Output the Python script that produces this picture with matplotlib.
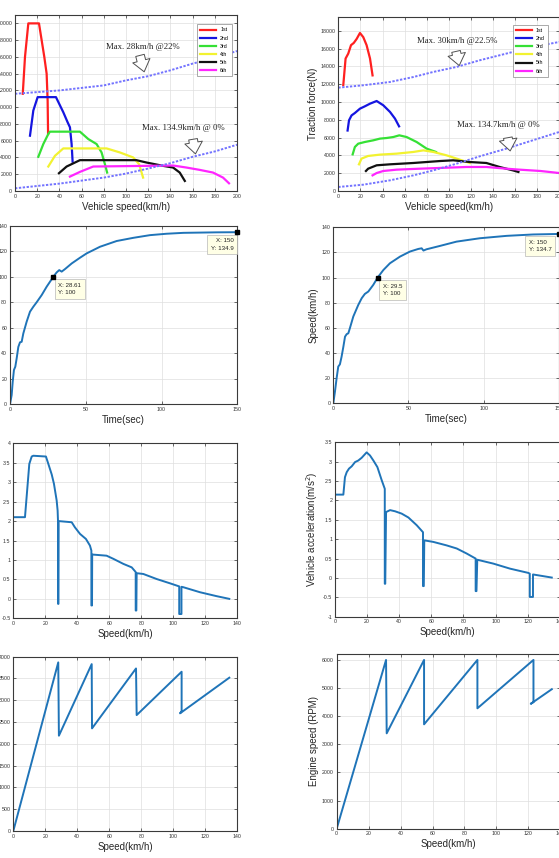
import numpy as np
import matplotlib
matplotlib.use("Agg")
import matplotlib.pyplot as plt
from matplotlib.ticker import FormatStrFormatter

plt.rcParams['font.family'] = ['Liberation Sans', 'DejaVu Sans']

## traction force vs vehicle speed (left: case A, right: case B) ##
gears = ['1st', '2nd', '3rd', '4th', '5th', '6th']
gear_colors = ['#ff2020', '#1515e0', '#35e035', '#f2f230', '#111111', '#ff25ff']

tfA_x = [[7, 9, 12, 21.6, 24, 26.4, 28.5, 29.4, 29.8],
         [13.5, 16.5, 20.4, 36.9, 43.5, 47.4, 49.5, 51, 51.9],
         [21, 25.5, 30, 31.5, 58.5, 66, 73.5, 78, 81, 83],
         [30, 36, 43.5, 82.5, 94.5, 106.5, 111.8, 115.4],
         [39.6, 46.5, 58.5, 109.4, 118.4, 133.4, 142.4, 148.4, 153],
         [49.5, 58.5, 70.5, 142.4, 154.4, 166.4, 178.4, 187.4, 192.8]]
tfA_y = [[11600, 16000, 20000, 20000, 18000, 16000, 14000, 10800, 6800],
         [6600, 9600, 11200, 11200, 9400, 8200, 7600, 5600, 3500],
         [4080, 5600, 6800, 7080, 7080, 6200, 5600, 4600, 3200, 2200],
         [2920, 4200, 5080, 5080, 4600, 4000, 3200, 1600],
         [2120, 2920, 3680, 3680, 3400, 3000, 2800, 2200, 1200],
         [1720, 2280, 2920, 3040, 2800, 2520, 2200, 1600, 920]]
resA_v = [0, 40, 80, 100, 120, 140, 160, 180, 200]
resA_hi = [11600, 12000, 12600, 13200, 13700, 14400, 15200, 15900, 16700]
resA_lo = [320, 880, 1600, 2080, 2680, 3320, 4080, 4720, 5520]

tfB_x = [[4.5, 6.6, 9, 11.5, 14, 16.6, 19.6, 22.6, 25.6, 28.7, 31],
         [8.4, 9.7, 12, 15, 19.6, 24, 28.7, 34.7, 40.7, 46.8, 51.3, 55],
         [13, 15, 18, 24, 31.7, 37.7, 43.7, 49.8, 55.2, 61.8, 70.9, 80, 88.4],
         [18.7, 21, 27, 37.7, 52.8, 67.9, 77, 86, 98, 110, 119],
         [25, 27, 34.7, 46.8, 67.9, 92, 104, 119, 134, 146, 158, 163],
         [31, 34.7, 40.7, 52.8, 74, 98, 116, 134, 152, 164, 183, 200]]
tfB_y = [[11900, 14900, 15450, 16400, 16650, 17100, 17770, 17300, 16400, 14900, 13000],
         [6800, 7950, 8500, 8770, 9260, 9520, 9820, 10120, 9640, 8890, 8140, 7270],
         [4120, 4950, 5320, 5510, 5700, 5890, 5960, 6070, 6260, 6070, 5510, 4760, 4390],
         [3000, 3640, 3940, 4090, 4200, 4390, 4570, 4390, 4010, 3520, 3150],
         [2250, 2510, 2890, 3000, 3150, 3370, 3450, 3260, 3150, 2700, 2320, 2140],
         [1760, 2020, 2250, 2400, 2510, 2620, 2700, 2700, 2510, 2400, 2250, 2020]]
resB_v = [0, 22.6, 46.8, 68, 86, 107, 128, 152, 176, 200]
resB_hi = [11620, 11890, 12260, 12820, 13390, 13950, 14700, 15450, 16200, 16760]
resB_lo = [450, 710, 1200, 1760, 2320, 3070, 3900, 4760, 5700, 6640]

## speed vs time ##
tA = [0, 1.1, 1.8, 2.6, 3.5, 4.4, 5.5, 6.6, 7.7, 8.8, 11, 13.2, 15.4, 17.6, 20.9, 24.2,
      28.61, 30.8, 32.5, 34.1, 36.3, 40.7, 46.2, 50.6, 59.4, 70.4, 81.4, 92.4, 103.4,
      114.4, 125.4, 136.4, 150]
vA = [0, 7.3, 17.8, 26.9, 29.5, 36, 45, 48.6, 49, 55.6, 64.8, 72.6, 76.5, 80, 85.6, 92.2,
      100, 103.4, 105.2, 104, 106, 110.4, 114.9, 118.3, 123.5, 128, 130.5, 132.6, 133.7,
      134.4, 134.6, 134.8, 134.9]
tB = [0, 1.1, 2.2, 3.3, 4.4, 5.5, 6.7, 7.8, 8.9, 10, 11.1, 13.3, 16.6, 18.9, 21, 23.3,
      26.6, 29.5, 33.3, 37.7, 44.4, 51, 56.6, 58.8, 60, 62, 71, 82, 97.6, 115.4, 133, 150]
vB = [0, 9.3, 19.9, 29.2, 31, 37, 45, 53, 55, 55.7, 60, 69, 78.2, 83.6, 87, 88.9,
      94.2, 100, 106, 111.4, 116.7, 120.7, 122.8, 123.3, 121.5, 122.5, 125.2, 128.6,
      131.3, 133.2, 134.3, 134.7]
tipsA = [(28.61, 100), (150, 134.9)]
tipsB = [(29.5, 100), (150, 134.7)]

## acceleration vs speed ##
accA_v = [0, 7.3, 10, 11.5, 12.5, 20.4, 21.9, 24, 25.4, 27.1, 27.7, 28.0, 28.0, 28.2, 28.3,
          36.5, 38.5, 41.7, 45.4, 47.9, 48.8, 48.8, 49.2, 49.3, 58.3, 62.5, 68.75, 74,
          76.5, 76.5, 76.9, 77.1, 81.25, 89.6, 97.9, 103.7, 103.7, 105.1, 105.1, 106.2,
          116.7, 127, 135]
accA_a = [2.1, 2.1, 3.47, 3.66, 3.68, 3.66, 3.47, 3.2, 2.96, 2.53, 2.27, 1.93, -0.13, -0.13,
          2.0, 1.97, 1.84, 1.67, 1.54, 1.37, 1.24, -0.17, -0.17, 1.14, 1.11, 1.03, 0.9,
          0.81, 0.69, -0.3, -0.3, 0.66, 0.64, 0.51, 0.40, 0.32, -0.39, -0.39, 0.31, 0.30,
          0.17, 0.07, 0.0]
accB_v = [0, 5.2, 6.2, 7.3, 8.7, 10.4, 12.5, 14.5, 16.6, 19.7, 21.8, 23.9, 26.4, 29.1,
          31.0, 31.0, 31.3, 31.8, 34.3, 37.4, 41.5, 45.7, 50.9, 54.8, 54.8, 55.3, 55.6,
          61.2, 69.5, 75.8, 82, 87.6, 87.6, 88.1, 88.6, 98.6, 109, 120.4, 121.3, 121.3,
          123.3, 123.3, 135]
accB_a = [2.15, 2.15, 2.6, 2.73, 2.82, 2.88, 2.99, 3.03, 3.10, 3.24, 3.16, 3.03, 2.86, 2.52,
          2.30, -0.15, -0.15, 1.70, 1.75, 1.72, 1.66, 1.56, 1.36, 1.18, -0.21, -0.21, 0.97,
          0.93, 0.84, 0.76, 0.63, 0.50, -0.34, -0.34, 0.47, 0.37, 0.24, 0.13, 0.11, -0.49,
          -0.49, 0.09, 0.01]

## engine speed vs speed ##
rpmA_v = [0, 28.1, 28.5, 49, 49.2, 76.7, 77.1, 105.2, 105.2, 104.2, 135]
rpmA_n = [0, 3870, 2187, 3830, 2355, 3730, 2660, 3655, 2750, 2700, 3518]
rpmB_v = [0, 30.9, 31.3, 54.7, 54.7, 88.1, 88.1, 123.2, 123.2, 121.5, 134.7]
rpmB_n = [0, 6000, 3390, 6000, 3710, 6000, 4280, 6000, 4500, 4440, 4960]

W, H = 559, 858
fig = plt.figure(figsize=(W / 100, H / 100), dpi=100)


def px_axes(l, r, t, b):
    return fig.add_axes([l / W, 1 - b / H, (r - l) / W, (b - t) / H])


def style(ax):
    ax.grid(True, color='#dedede', lw=0.5)
    ax.set_axisbelow(True)
    ax.tick_params(direction='in', length=2, width=0.5, labelsize=3.8,
                   colors='#333333', top=True, right=True, pad=2)
    for s in ax.spines.values():
        s.set_color('#3a3a3a')
        s.set_linewidth(0.8)


line_c = '#1f74b8'
lab = dict(fontsize=7, color='#262626')
ann = dict(fontsize=6.3, family='Liberation Serif', color='#222222')
arrow = dict(arrowstyle='simple,head_length=0.55,head_width=0.85,tail_width=0.42',
             fc='white', ec='#505050', lw=0.7, mutation_scale=15)


def traction(ax, xs, ys, rv, rhi, rlo, ymax, yt, txt1, p1, a1, txt2, p2, a2, leg_anchor):
    for x, y, g, c in zip(xs, ys, gears, gear_colors):
        ax.plot(x, y, color=c, lw=1.6, label=g)
    ax.plot(rv, rhi, color='#7373ff', lw=1.4, ls=(0, (1.2, 0.8)))
    ax.plot(rv, rlo, color='#7373ff', lw=1.4, ls=(0, (1.2, 0.8)))
    ax.text(p1[0], p1[1], txt1, **ann)
    ax.annotate('', xy=a1[1], xytext=a1[0], arrowprops=arrow)
    ax.text(p2[0], p2[1], txt2, **ann)
    ax.annotate('', xy=a2[1], xytext=a2[0], arrowprops=arrow)
    ax.set_xlim(0, 200)
    ax.set_ylim(0, ymax)
    ax.set_xticks(np.arange(0, 201, 20))
    ax.set_yticks(yt)
    ax.set_xlabel('Vehicle speed(km/h)', labelpad=2, **lab)
    leg = ax.legend(loc='upper right', bbox_to_anchor=leg_anchor, fontsize=3.8,
                    handlelength=3, labelspacing=0.6, borderpad=0.6,
                    fancybox=False, edgecolor='#888888', framealpha=1)
    leg.get_frame().set_linewidth(0.5)
    style(ax)


def tip(ax, x, y, off, ha):
    ax.plot([x], [y], 's', color='black', ms=3.5, clip_on=False, zorder=5)
    ax.annotate('X: %g\nY: %g' % (x, y), xy=(x, y), xytext=off,
                textcoords='offset pixels', ha=ha, va='top', fontsize=4.4,
                color='#222222', linespacing=1.6, annotation_clip=False,
                bbox=dict(boxstyle='square,pad=0.6', fc='#ffffe6', ec='#b8b8b8', lw=0.5))


# row 1
ax = px_axes(15, 237, 15, 191)
traction(ax, tfA_x, tfA_y, resA_v, resA_hi, resA_lo, 21000, np.arange(0, 20001, 2000),
         'Max. 28km/h @22%', (82, 17000), ((112, 16500), (117, 13900)),
         'Max. 134.9km/h @ 0%', (114, 7300), ((160, 6500), (163, 4100)),
         (0.99, 0.962))

ax = px_axes(338.3, 559.3, 16.7, 191)
traction(ax, tfB_x, tfB_y, resB_v, resB_hi, resB_lo, 19600, np.arange(0, 18001, 2000),
         'Max. 30km/h @22.5%', (71, 16600), ((106, 16000), (110, 13800)),
         'Max. 134.7km/h @ 0%', (107, 7150), ((153, 6300), (156, 4200)),
         (0.96, 0.97))
ax.set_ylabel('Traction force(N)', labelpad=2, **lab)

# row 2
for (l, r, t, b), tt, vv, tips, ylab in [((10, 237.3, 225.7, 404.3), tA, vA, tipsA, None),
                                         ((333.3, 558.7, 227.3, 403.3), tB, vB, tipsB, 'Speed(km/h)')]:
    ax = px_axes(l, r, t, b)
    ax.plot(tt, vv, color=line_c, lw=1.4)
    ax.set_xlim(0, 150)
    ax.set_ylim(0, 140)
    ax.set_xticks([0, 50, 100, 150])
    ax.set_yticks(np.arange(0, 141, 20))
    ax.set_xlabel('Time(sec)', labelpad=2, **lab)
    if ylab:
        ax.set_ylabel(ylab, labelpad=2, **lab)
    style(ax)
    tip(ax, tips[0][0], tips[0][1], (5, -6), 'left')
    if ylab:
        tip(ax, tips[1][0], tips[1][1], (-30, -6), 'left')
    else:
        tip(ax, tips[1][0], tips[1][1], (-4, -6), 'right')

# row 3
ax = px_axes(13.3, 237.3, 443.3, 618.3)
ax.plot(accA_v, accA_a, color=line_c, lw=1.4)
ax.set_xlim(0, 140)
ax.set_ylim(-0.5, 4)
ax.set_xticks(np.arange(0, 141, 20))
ax.set_yticks(np.arange(-0.5, 4.01, 0.5))
ax.yaxis.set_major_formatter(FormatStrFormatter('%g'))
ax.set_xlabel('Speed(km/h)', labelpad=2, **lab)
style(ax)

ax = px_axes(335, 559.8, 442.3, 616.7)
ax.plot(accB_v, accB_a, color=line_c, lw=1.4)
ax.set_xlim(0, 140)
ax.set_ylim(-1, 3.5)
ax.set_xticks(np.arange(0, 141, 20))
ax.set_yticks(np.arange(-1, 3.51, 0.5))
ax.yaxis.set_major_formatter(FormatStrFormatter('%g'))
ax.set_xlabel('Speed(km/h)', labelpad=2, **lab)
ax.set_ylabel('Vehicle acceleration(m/s$^2$)', labelpad=2, **lab)
style(ax)

# row 4
ax = px_axes(13.3, 237.3, 656.7, 831)
ax.plot(rpmA_v, rpmA_n, color=line_c, lw=1.4)
ax.set_xlim(0, 140)
ax.set_ylim(0, 4000)
ax.set_xticks(np.arange(0, 141, 20))
ax.set_yticks(np.arange(0, 4001, 500))
ax.set_xlabel('Speed(km/h)', labelpad=2, **lab)
style(ax)

ax = px_axes(336.7, 560.3, 654.3, 828.7)
ax.plot(rpmB_v, rpmB_n, color=line_c, lw=1.4)
ax.set_xlim(0, 140)
ax.set_ylim(0, 6200)
ax.set_xticks(np.arange(0, 141, 20))
ax.set_yticks(np.arange(0, 6001, 1000))
ax.set_xlabel('Speed(km/h)', labelpad=2, **lab)
ax.set_ylabel('Engine speed (RPM)', labelpad=2, **lab)
style(ax)

fig.savefig('out.png', dpi=100)
